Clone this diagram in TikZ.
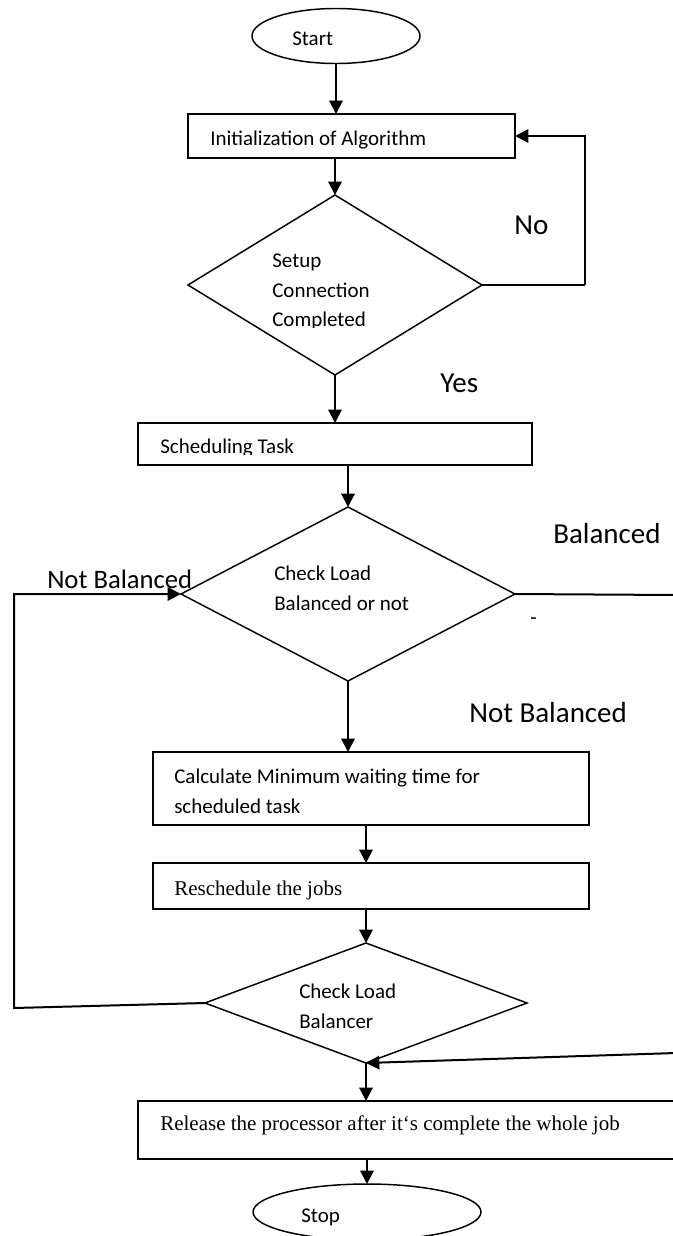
\documentclass[tikz,border=0pt]{standalone}
\usepackage{fontspec}
\setmainfont{Carlito}
\newfontfamily\tms{Liberation Serif}
\usetikzlibrary{shapes.geometric,arrows.meta}
\begin{document}
\begin{tikzpicture}[x=0.75pt,y=-0.75pt,
  shp/.style={draw,line width=1.1pt,inner sep=0pt,outer sep=0pt},
  box/.style={shp,rectangle},
  dia/.style={shp,diamond},
  oval/.style={shp,ellipse},
  txt/.style={anchor=base west,inner sep=0pt,font=\fontsize{15.75}{18}\selectfont},
  lbl/.style={anchor=base west,inner sep=0pt,font=\fontsize{21.75}{24}\selectfont},
  arr/.style={line width=1.5pt,-{Triangle[length=10pt,width=10pt]}},
  ln/.style={line width=1.5pt}]
\useasboundingbox (0,0) rectangle (672,1236);
% shapes
\node[oval,minimum width=126pt,minimum height=41.25pt] (start) at (336,36) {};
\node[box,minimum width=245.25pt,minimum height=33pt] (init) at (351.5,136) {};
\node[dia,minimum width=220.5pt,minimum height=135pt] (d1) at (335,285) {};
\node[box,minimum width=295.5pt,minimum height=31.5pt] (sched) at (335,444) {};
\node[dia,minimum width=250.5pt,minimum height=130.5pt] (d2) at (348,594) {};
\node[box,minimum width=327pt,minimum height=54.75pt] (calc) at (371,788.5) {};
\node[box,minimum width=327pt,minimum height=34.5pt] (resch) at (371,886) {};
\node[dia,minimum width=241.5pt,minimum height=90pt] (d3) at (366,1003) {};
\node[box,minimum width=414pt,minimum height=43.5pt] (rel) at (414,1130) {};
\node[oval,minimum width=171pt,minimum height=42pt] (stop) at (367,1212) {};
% texts
\node[txt] (tstart) at (292,45) {Start};
\node[txt] (tinit) at (210,145) {Initialization of Algorithm};
\begin{scope}
\clip (0,0) rectangle (672,327);
\node[txt] (td1a) at (272,267) {Setup};
\node[txt] (td1b) at (272,297) {Connection};
\node[txt] (td1c) at (272,326) {Completed};
\end{scope}
\begin{scope}
\clip (0,400) rectangle (672,454);
\node[txt] (tsched) at (160,453) {Scheduling Task};
\end{scope}
\node[txt] (td2a) at (274,580) {Check Load};
\node[txt] (td2b) at (274,610) {Balanced or not};
\node[txt] (tcalca) at (174,783) {Calculate Minimum waiting time for};
\node[txt] (tcalcb) at (174,813) {scheduled task};
\node[txt,font=\tms\fontsize{15.75}{18}\selectfont] (tresch) at (174,895) {Reschedule the jobs};
\node[txt] (td3a) at (299,998) {Check Load};
\node[txt] (td3b) at (299,1028) {Balancer};
\node[txt,font=\tms\fontsize{15.75}{18}\selectfont] (trel) at (160,1130) {Release the processor after it‘s complete the whole job};
\node[txt] (tstop) at (301,1222) {Stop};
% labels
\node[lbl] (lno) at (514,234) {No};
\node[lbl] (lyes) at (440,392) {Yes};
\node[lbl] (lbal) at (553,543) {Balanced};
\node[lbl] (lnb) at (469,722) {Not Balanced};
\node[anchor=base west,inner sep=0pt,font=\fontsize{20}{22}\selectfont] (lnbl) at (47,588) {Not Balanced};
\node[txt] (ldash) at (530,624) {-};
% connectors
\coordinate (noR) at (585,285);
\coordinate (lft) at (14,1008);
\coordinate (rgtA) at (676,595);
\coordinate (rgtB) at (676,1053);
\draw[arr] (start.south) -- (start.south |- init.north);
\draw[arr] (d1.north |- init.south) -- (d1.north);
\draw[ln] (d1.east) -- (noR);
\draw[arr] (noR) |- (init.east);
\draw[arr] (d1.south) -- (d1.south |- sched.north);
\draw[arr] (d2.north |- sched.south) -- (d2.north);
\draw[arr] (d2.south) -- (d2.south |- calc.north);
\draw[arr] (d3.north |- calc.south) -- (d3.north |- resch.north);
\draw[arr] (d3.north |- resch.south) -- (d3.north);
\draw[arr] (d3.west) -- (lft) |- (d2.west);
\draw[arr] (d2.east) -- (rgtA) -- (rgtB) -- (d3.south);
\draw[arr] (d3.south) -- (d3.south |- rel.north);
\draw[arr] (stop.north |- rel.south) -- (stop.north);
\end{tikzpicture}
\end{document}
